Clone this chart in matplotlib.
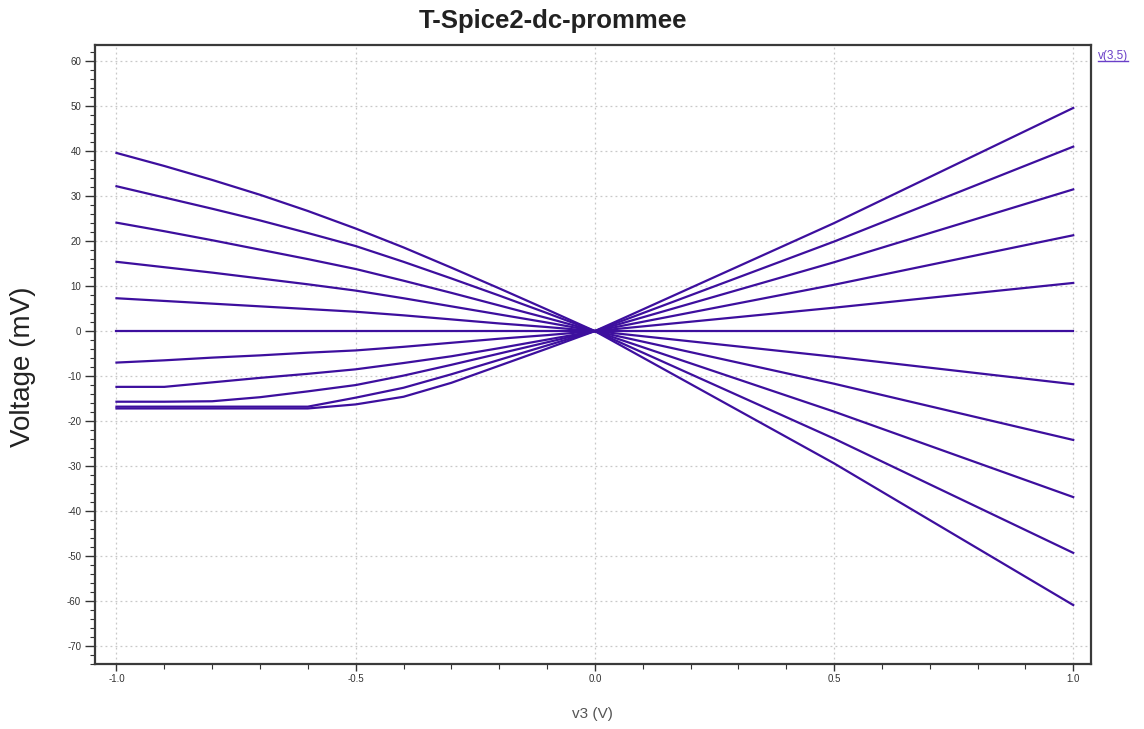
import matplotlib
matplotlib.use("Agg")
import matplotlib.pyplot as plt
from matplotlib.ticker import MultipleLocator

# -----------------------------------------------------
# DC sweep data: v3 (V) against output voltage (mV)
# -----------------------------------------------------

v3 = [-1.0, -0.9, -0.8, -0.7, -0.6, -0.5, -0.4, -0.3, -0.2, -0.1, 0.0, 0.5, 1.0]

out_a = [39.6, 36.7, 33.6, 30.3, 26.7, 22.8, 18.6, 14.1, 9.5, 4.8, 0.0, -29.4, -60.9]
out_b = [32.2, 29.7, 27.2, 24.6, 21.8, 18.9, 15.4, 11.7, 7.9, 4.0, 0.0, -23.9, -49.3]
out_c = [24.1, 22.2, 20.2, 18.1, 16.0, 13.8, 11.2, 8.5, 5.7, 2.9, 0.0, -17.9, -36.9]
out_d = [15.4, 14.2, 13.0, 11.7, 10.4, 9.0, 7.3, 5.5, 3.7, 1.9, 0.0, -11.7, -24.2]
out_e = [7.3, 6.7, 6.1, 5.5, 4.9, 4.3, 3.5, 2.6, 1.7, 0.9, 0.0, -5.7, -11.8]
out_f = [0.0, 0.0, 0.0, 0.0, 0.0, 0.0, 0.0, 0.0, 0.0, 0.0, 0.0, 0.0, 0.0]
out_g = [-7.0, -6.5, -5.9, -5.4, -4.8, -4.3, -3.5, -2.6, -1.7, -0.9, 0.0, 5.2, 10.7]
out_h = [-12.4, -12.4, -11.4, -10.4, -9.5, -8.5, -7.1, -5.6, -3.8, -1.9, 0.0, 10.3, 21.3]
out_i = [-15.7, -15.7, -15.6, -14.7, -13.4, -12.0, -9.9, -7.5, -5.0, -2.5, 0.0, 15.3, 31.5]
out_j = [-16.8, -16.8, -16.8, -16.8, -16.8, -14.8, -12.6, -9.6, -6.4, -3.2, 0.0, 19.9, 41.0]
out_k = [-17.2, -17.2, -17.2, -17.2, -17.2, -16.3, -14.6, -11.5, -7.7, -3.9, 0.0, 24.0, 49.6]

sweeps = [out_a, out_b, out_c, out_d, out_e, out_f, out_g, out_h, out_i, out_j, out_k]

y_ticks = [60, 50, 40, 30, 20, 10, 0, -10, -20, -30, -40, -50, -60, -70]
x_ticks = [-1.0, -0.5, 0.0, 0.5, 1.0]

trace_name = "v(3,5)"
line_color = "#3d0f9e"

# -----------------------------------------------------
# Plot
# -----------------------------------------------------

plt.rcParams["font.family"] = ["Liberation Sans", "DejaVu Sans"]
plt.rcParams["axes.unicode_minus"] = False

fig = plt.figure(figsize=(11.44, 7.29), dpi=100)
ax = fig.add_axes([0.0830, 0.0892, 0.8706, 0.8491])

for sweep in sweeps:
    ax.plot(v3, sweep, color=line_color, linewidth=1.6, solid_joinstyle="round")

ax.set_xlim(-1.045, 1.037)
ax.set_ylim(-74.0, 63.6)

ax.set_xticks(x_ticks)
ax.set_xticklabels(["%.1f" % t for t in x_ticks])
ax.set_yticks(y_ticks)
ax.xaxis.set_minor_locator(MultipleLocator(0.1))
ax.yaxis.set_minor_locator(MultipleLocator(2))

ax.tick_params(which="major", length=7, width=1, color="#333333",
               labelsize=7, labelcolor="#333333", pad=3)
ax.tick_params(axis="x", which="major", length=5, pad=2)
ax.tick_params(which="minor", length=3.5, width=0.8, color="#333333")
ax.tick_params(top=False, right=False)

ax.grid(True, which="major", color="#c8c8c8", linestyle=(0, (1.5, 2.5)), linewidth=0.9)

for spine in ax.spines.values():
    spine.set_color("#3a3a3a")
    spine.set_linewidth(1.6)

ax.set_xlabel("v3 (V)", fontsize=11, color="#555555", labelpad=17)

fig.text(23 / 1144, 1 - 367 / 729, "Voltage (mV)", rotation=90, ha="center",
         va="center", fontsize=20, color="#222222")

fig.text(0.4836, 0.988, "T-Spice2-dc-prommee", ha="center", va="top",
         fontsize=18.5, fontweight="bold", color="#222222")

legend_text = fig.text(1098 / 1144, 1 - 56 / 729, trace_name, ha="left",
                       va="center", fontsize=8.5, color="#6a3fc8")
# underline under the trace name
fig.canvas.draw()
bb = legend_text.get_window_extent()
fx0, fy0 = fig.transFigure.inverted().transform((bb.x0, bb.y0))
fx1, _ = fig.transFigure.inverted().transform((bb.x1, bb.y0))
fig.add_artist(plt.Line2D([fx0, fx1], [fy0 + 0.001, fy0 + 0.001],
                          transform=fig.transFigure, color="#6a3fc8", linewidth=1.0))

fig.savefig("out.png", dpi=100)
plt.close(fig)
